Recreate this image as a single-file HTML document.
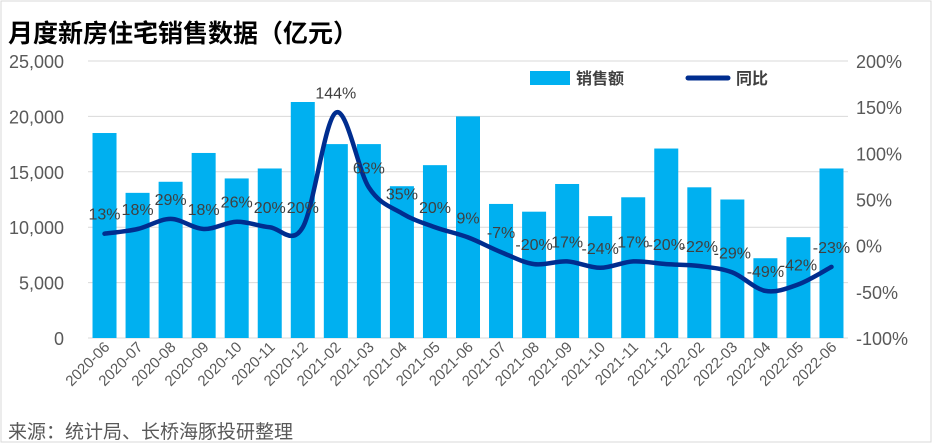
<!DOCTYPE html>
<html><head><meta charset="utf-8">
<style>
body{margin:0;background:#fff;width:932px;height:443px;overflow:hidden;font-family:"Liberation Sans","Noto Sans CJK SC",sans-serif;}
</style></head>
<body>
<svg id="chart" width="932" height="443" xmlns="http://www.w3.org/2000/svg" font-family="Liberation Sans, Noto Sans CJK SC, sans-serif">
<rect x="1" y="1" width="930" height="441" fill="#fff" stroke="#d9d9d9"/>
<text x="8" y="42" font-size="25" font-weight="bold" fill="#000">月度新房住宅销售数据（亿元）</text>
<text x="8" y="438" font-size="19" fill="#595959">来源：统计局、长桥海豚投研整理</text>
<g id="grid"></g><g id="bars"></g><g id="line"></g><g id="labels"></g><g id="axes"></g>
<g>
<rect x="530" y="71" width="40" height="14" fill="#00b0f0"/>
<text x="576" y="84" font-size="16" font-weight="bold" fill="#404040">销售额</text>
<line x1="688" y1="78" x2="728" y2="78" stroke="#002d8f" stroke-width="5" stroke-linecap="round"/>
<text x="736" y="84" font-size="16" font-weight="bold" fill="#404040">同比</text>
</g>
</svg>
<script>
const categories=["2020-06","2020-07","2020-08","2020-09","2020-10","2020-11","2020-12","2021-02","2021-03","2021-04","2021-05","2021-06","2021-07","2021-08","2021-09","2021-10","2021-11","2021-12","2022-02","2022-03","2022-04","2022-05","2022-06"];
const sales=[18500,13100,14100,16700,14400,15300,21300,17500,17500,13700,15600,20000,12100,11400,13900,11000,12700,17100,13600,12500,7200,9100,15300];
const yoy=[13,18,29,18,26,20,20,144,63,35,20,9,-7,-20,-17,-24,-17,-20,-22,-29,-49,-42,-23];
const yoyLabels=["13%","18%","29%","18%","26%","20%","20%","144%","63%","35%","20%","9%","-7%","-20%","17%","-24%","17%","-20%","-22%","-29%","-49%","-42%","-23%"];
const leftTicks=[0,5000,10000,15000,20000,25000];
const rightTicks=[-100,-50,0,50,100,150,200];
const NS="http://www.w3.org/2000/svg";
const x0=88,x1=848,yTop=61,yBot=338;
const step=(x1-x0)/categories.length;
const xC=i=>x0+step*(i+0.5);
const yL=v=>yBot-(v/25000)*(yBot-yTop);
const yR=v=>yBot-((v+100)/300)*(yBot-yTop);
function mk(tag,attrs,parent,txt){const e=document.createElementNS(NS,tag);for(const k in attrs)e.setAttribute(k,attrs[k]);if(txt!==undefined)e.textContent=txt;document.getElementById(parent).appendChild(e);return e;}
leftTicks.forEach(t=>{
 const g=mk('line',{x1:x0,x2:x1,y1:yL(t),y2:yL(t),stroke:'#d9d9d9','stroke-width':1},'grid');
 
 
 const l=mk('text',{x:x0-24,y:yL(t)+7,'font-size':18,'text-anchor':'end',fill:'#595959'},'axes',t.toLocaleString('en-US'));
 
 
});
rightTicks.forEach(t=>{
 const l=mk('text',{x:x1+8,y:yR(t)+7,'font-size':18,fill:'#595959'},'axes',t+'%');
 
 
});
const bw=24;
sales.forEach((v,i)=>{
 const r=mk('rect',{x:xC(i)-bw/2,y:yL(v),width:bw,height:yBot-yL(v),fill:'#00b0f0'},'bars');
 
 
 const c=categories[i];
 const t=mk('text',{x:xC(i)+6,y:yBot+10,'font-size':15,'text-anchor':'end',fill:'#595959',transform:`rotate(-45 ${xC(i)+6} ${yBot+10})`},'axes',c);
 
 
});
const pts=yoy.map((v,i)=>[xC(i),yR(v)]);
let d='M'+pts[0][0].toFixed(1)+' '+pts[0][1].toFixed(1);
for(let i=0;i<pts.length-1;i++){
 const p0=pts[Math.max(0,i-1)],p1=pts[i],p2=pts[i+1],p3=pts[Math.min(pts.length-1,i+2)];
 const k=1/6;
 const c1=[p1[0]+(p2[0]-p0[0])*k,p1[1]+(p2[1]-p0[1])*k];
 const c2=[p2[0]-(p3[0]-p1[0])*k,p2[1]-(p3[1]-p1[1])*k];
 d+=` C${c1[0].toFixed(1)} ${c1[1].toFixed(1)} ${c2[0].toFixed(1)} ${c2[1].toFixed(1)} ${p2[0].toFixed(1)} ${p2[1].toFixed(1)}`;
}
const p=mk('path',{d:d,fill:'none',stroke:'#002d8f','stroke-width':4.5,'stroke-linejoin':'round','stroke-linecap':'round'},'line');


yoy.forEach((v,i)=>{
 const t=mk('text',{x:xC(i),y:yR(v)-14,'font-size':16,'text-anchor':'middle',fill:'#404040'},'labels',yoyLabels[i]);
 
 
});
</script>
</body></html>
